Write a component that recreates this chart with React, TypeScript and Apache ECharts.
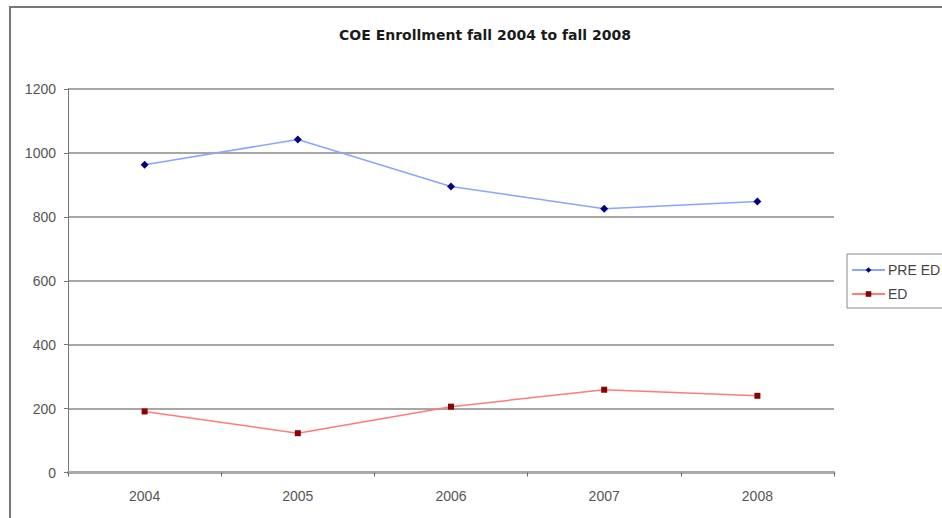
import React, { useEffect, useRef } from "react";
import * as echarts from "echarts";

const years = ["2004", "2005", "2006", "2007", "2008"];
const preEd = [963, 1042, 895, 825, 848];
const ed = [191, 123, 206, 259, 240];
const yTicks = { min: 0, max: 1200, interval: 200 };

export default function App() {
  const ref = useRef<HTMLDivElement>(null);

  useEffect(() => {
    document.body.style.margin = "0";
    const chart = echarts.init(ref.current!, null, { renderer: "svg" });
    const font = "'Liberation Sans', Arial, sans-serif";
    chart.setOption({
      animation: false,
      backgroundColor: "#ffffff",
      title: {
        text: "COE Enrollment fall 2004 to fall 2008",
        left: 480,
        top: 23,
        textAlign: "center",
        textStyle: { fontFamily: "'DejaVu Sans', sans-serif", fontSize: 14, fontWeight: "bold", color: "#1a1a1a" },
      },
      graphic: [
        {
          type: "rect",
          shape: { x: 10, y: 7, width: 1000, height: 600 },
          style: { fill: "none", stroke: "#777", lineWidth: 2 },
          silent: true,
        },
      ],
      legend: {
        orient: "vertical",
        left: 847,
        top: 254,
        padding: [9, 60, 7, 4],
        itemGap: 10,
        itemWidth: 33,
        itemHeight: 7,
        borderColor: "#888",
        borderWidth: 1,
        backgroundColor: "#fff",
        textStyle: { fontFamily: font, fontSize: 14, color: "#444", padding: [0, 0, 0, -2] },
        data: ["PRE ED", "ED"],
      },
      grid: { left: 68, top: 89, width: 766, height: 383.5, containLabel: false },
      xAxis: {
        type: "category",
        data: years,
        boundaryGap: true,
        axisLine: { lineStyle: { color: "#aaa", width: 3 } },
        axisTick: { show: true, length: 4, lineStyle: { color: "#666", width: 1 } },
        axisLabel: { fontFamily: font, fontSize: 14, color: "#555", margin: 16 },
        splitLine: { show: false },
      },
      yAxis: {
        type: "value",
        min: yTicks.min,
        max: yTicks.max,
        interval: yTicks.interval,
        axisLine: { show: true, lineStyle: { color: "#777", width: 1 } },
        axisTick: { show: true, length: 4, lineStyle: { color: "#777" } },
        axisLabel: { fontFamily: font, fontSize: 14, color: "#555", margin: 12, formatter: (v: number) => String(v) },
        splitLine: { show: true, lineStyle: { color: "#8a8a8a", width: 1.5 } },
      },
      series: [
        {
          name: "PRE ED",
          type: "line",
          data: preEd,
          symbol: "diamond",
          symbolSize: 8,
          itemStyle: { color: "#000080" },
          lineStyle: { color: "#8aa4ff", width: 1.5 },
        },
        {
          name: "ED",
          type: "line",
          data: ed,
          symbol: "rect",
          symbolSize: 6,
          itemStyle: { color: "#8b0000" },
          lineStyle: { color: "#ff7a7a", width: 1.5 },
        },
      ],
    });
    return () => chart.dispose();
  }, []);

  return <div ref={ref} style={{ width: 942, height: 518 }} />;
}
